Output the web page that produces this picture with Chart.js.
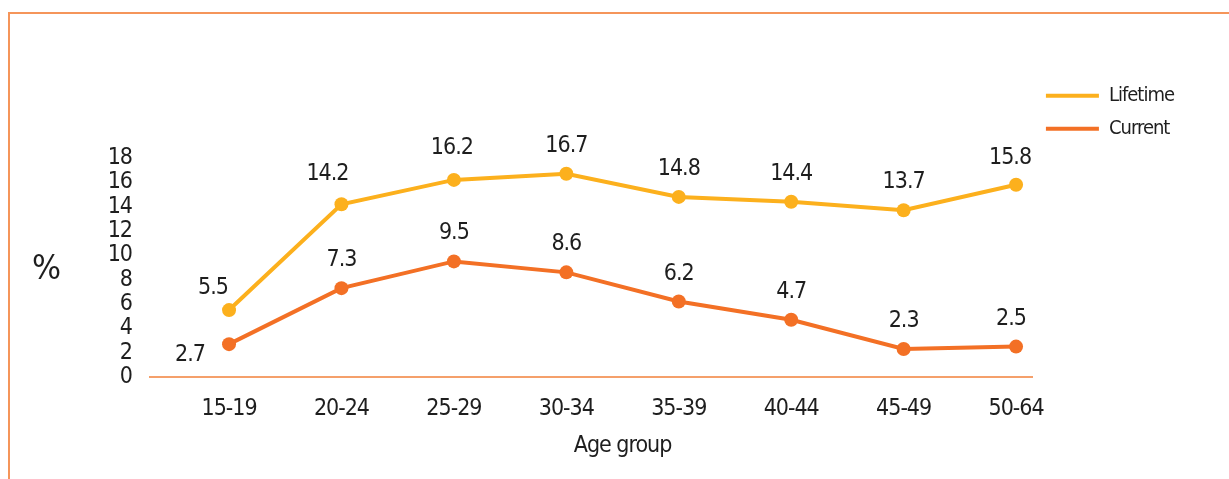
<!DOCTYPE html>
<html>
<head>
<meta charset="utf-8">
<script src="https://cdn.jsdelivr.net/npm/chart.js@4/dist/chart.umd.min.js"></script>
<style>
  html, body { margin: 0; padding: 0; background: #fff; }
  #frame {
    position: absolute; left: 8px; top: 12px; right: 0; bottom: 0;
    border-top: 2px solid #f5955a; border-left: 2px solid #f5955a;
  }
  #chart { position: absolute; left: 0; top: 0; }
</style>
</head>
<body>
<div id="frame"></div>
<canvas id="chart" width="1229" height="479"></canvas>
<script>
const ageGroups = ["15-19", "20-24", "25-29", "30-34", "35-39", "40-44", "45-49", "50-64"];
const lifetime = [5.5, 14.2, 16.2, 16.7, 14.8, 14.4, 13.7, 15.8];
const current = [2.7, 7.3, 9.5, 8.6, 6.2, 4.7, 2.3, 2.5];
const yTicks = [0, 2, 4, 6, 8, 10, 12, 14, 16, 18];

// small nudges for value labels that sit off the default spot
const labelNudge = {
  Lifetime: { 0: [-16, 6], 1: [-14, -2], 2: [-2, -4], 7: [-6, 1] },
  Current: { 0: [-39, 39], 7: [-5, 0] },
};

const textColor = "#1e1e1e";
const fontFamily = "'DejaVu Sans Condensed', 'Liberation Sans', sans-serif";
Chart.defaults.font.family = fontFamily;
Chart.defaults.color = textColor;

const toPoints = (values) => values.map((v, i) => ({ x: i, y: v }));

// tighten the text a bit, the original uses a condensed face
const tightText = {
  id: "tightText",
  beforeDraw(chart) {
    chart.ctx.letterSpacing = "-1px";
  },
};

const valueLabels = {
  id: "valueLabels",
  afterDatasetsDraw(chart) {
    const { ctx } = chart;
    ctx.save();
    ctx.font = "23px " + fontFamily;
    ctx.fillStyle = textColor;
    ctx.textAlign = "center";
    ctx.textBaseline = "middle";
    chart.data.datasets.forEach((ds, di) => {
      chart.getDatasetMeta(di).data.forEach((pt, i) => {
        const [dx, dy] = (labelNudge[ds.label] || {})[i] || [0, 0];
        ctx.fillText(ds.data[i].y.toFixed(1), pt.x + dx, pt.y - 28 + dy);
      });
    });
    ctx.restore();
  },
};

const axisTitles = {
  id: "axisTitles",
  afterDraw(chart) {
    const { ctx, chartArea, scales } = chart;
    ctx.save();
    ctx.fillStyle = textColor;
    ctx.textAlign = "center";
    ctx.textBaseline = "middle";
    ctx.font = "34px " + fontFamily;
    ctx.fillText("%", 46, scales.y.getPixelForValue(9) + 3);
    ctx.font = "23px " + fontFamily;
    const mid = (scales.x.getPixelForValue(0) + scales.x.getPixelForValue(ageGroups.length - 1)) / 2;
    ctx.fillText("Age group", mid, chartArea.bottom + 69);
    ctx.restore();
  },
};

new Chart(document.getElementById("chart"), {
  type: "line",
  data: {
    datasets: [
      {
        label: "Lifetime",
        data: toPoints(lifetime),
        borderColor: "#fcb01d",
        backgroundColor: "#fcb01d",
        borderWidth: 4,
        pointRadius: 7,
        pointBorderWidth: 0,
        tension: 0,
      },
      {
        label: "Current",
        data: toPoints(current),
        borderColor: "#f37025",
        backgroundColor: "#f37025",
        borderWidth: 4,
        pointRadius: 7,
        pointBorderWidth: 0,
        tension: 0,
      },
    ],
  },
  options: {
    responsive: false,
    animation: false,
    layout: { padding: { top: 72.8, right: 37, bottom: 0, left: 0 } },
    plugins: {
      tooltip: { enabled: false },
      legend: {
        position: "right",
        align: "start",
        labels: {
          boxWidth: 53,
          boxHeight: 4,
          padding: 13,
          color: textColor,
          font: { size: 20 },
          generateLabels: (chart) =>
            Chart.defaults.plugins.legend.labels.generateLabels(chart).map((l) => ({ ...l, lineWidth: 0 })),
        },
      },
    },
    scales: {
      x: {
        type: "linear",
        min: -0.703,
        max: 7.15,
        grid: { display: false, drawTicks: false },
        border: { display: true, color: "#f5a06b", width: 2 },
        ticks: {
          padding: 18,
          font: { size: 23 },
          callback: (v) => ageGroups[v],
        },
        afterBuildTicks: (s) => {
          s.ticks = ageGroups.map((_, i) => ({ value: i }));
        },
        afterFit: (s) => {
          s.height = 102;
        },
      },
      y: {
        min: 0,
        max: 25,
        grid: { display: false, drawTicks: false },
        border: { display: false },
        ticks: { padding: 18, font: { size: 23 } },
        afterBuildTicks: (s) => {
          s.ticks = yTicks.map((v) => ({ value: v }));
        },
        afterFit: (s) => {
          s.width = 150;
        },
      },
    },
  },
  plugins: [tightText, valueLabels, axisTitles],
});
</script>
</body>
</html>
